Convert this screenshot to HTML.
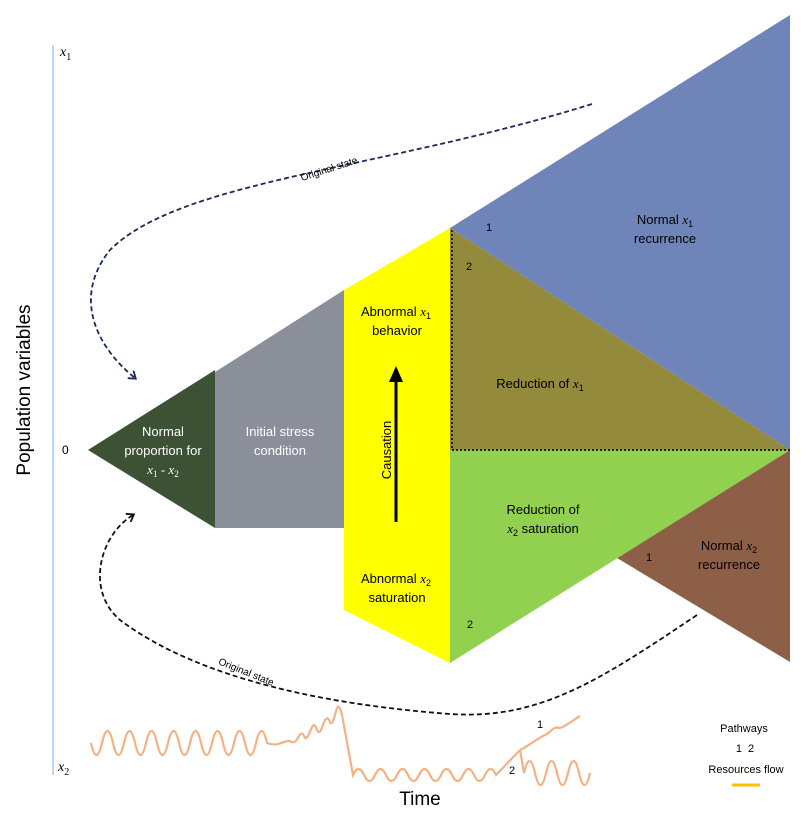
<!DOCTYPE html>
<html><head><style>
body{margin:0;background:#fff;}
svg{display:block;font-family:"Liberation Sans",sans-serif;}
</style></head><body>
<svg width="807" height="815" viewBox="0 0 807 815" xmlns="http://www.w3.org/2000/svg">
<defs>
<marker id="an" markerWidth="10" markerHeight="10" refX="6" refY="5" orient="auto" markerUnits="userSpaceOnUse"><path d="M0,0 L7,5 L0,10" fill="none" stroke="#1a2a5a" stroke-width="1.8"/></marker>
<marker id="ab" markerWidth="10" markerHeight="10" refX="6" refY="5" orient="auto" markerUnits="userSpaceOnUse"><path d="M0,0 L7,5 L0,10" fill="none" stroke="#111" stroke-width="1.8"/></marker>
</defs>
<line x1="53" y1="45" x2="53" y2="775" stroke="#bcd8ee" stroke-width="2"/>
<text x="60" y="56" font-family="Liberation Serif" font-style="italic" font-size="14">x<tspan font-size="10" dy="4" font-style="normal">1</tspan></text>
<text x="58" y="771" font-family="Liberation Serif" font-style="italic" font-size="14">x<tspan font-size="10" dy="4" font-style="normal">2</tspan></text>
<text x="62" y="454" font-size="12">0</text>
<text transform="translate(30,390) rotate(-90)" text-anchor="middle" font-size="19">Population variables</text>
<text x="420" y="805" text-anchor="middle" font-size="19">Time</text>

<polygon points="450,228 790,15 790,450" fill="#6f84b8"/>
<polygon points="617,558 790,450 790,662" fill="#8e5f47"/>
<polygon points="450,228 450,450 790,450" fill="#938a3c"/>
<polygon points="450,450 790,450 450,663" fill="#92d050"/>
<polygon points="344,290 450,228 450,663 344,610" fill="#ffff00"/>
<polygon points="215,372 344,290 344,528 215,528" fill="#8a8f9a"/>
<polygon points="88,450 215,370 215,528" fill="#3d5235"/>
<path d="M452,230 V450 H790" fill="none" stroke="#223" stroke-width="2" stroke-dasharray="2,2"/>

<line x1="396" y1="522" x2="396" y2="380" stroke="#000" stroke-width="3"/>
<polygon points="389,382 396,366 403,382" fill="#000"/>
<text transform="translate(391,450) rotate(-90)" text-anchor="middle" font-size="13">Causation</text>

<g font-size="13" text-anchor="middle">
<text x="163" y="436" fill="#fff">Normal</text>
<text x="163" y="455" fill="#fff">proportion for</text>
<text x="163" y="474" fill="#fff" font-family="Liberation Serif"><tspan font-style="italic">x</tspan><tspan font-size="9" dy="3">1</tspan><tspan dy="-3"> - </tspan><tspan font-style="italic">x</tspan><tspan font-size="9" dy="3">2</tspan></text>
<text x="280" y="436" fill="#fff">Initial stress</text>
<text x="280" y="455" fill="#fff">condition</text>
<text x="396" y="316">Abnormal <tspan font-family="Liberation Serif" font-style="italic">x</tspan><tspan font-size="9" dy="3">1</tspan></text>
<text x="397" y="335">behavior</text>
<text x="396" y="583">Abnormal <tspan font-family="Liberation Serif" font-style="italic">x</tspan><tspan font-size="9" dy="3">2</tspan></text>
<text x="397" y="602">saturation</text>
<text x="540" y="388">Reduction of <tspan font-family="Liberation Serif" font-style="italic">x</tspan><tspan font-size="9" dy="3">1</tspan></text>
<text x="543" y="514">Reduction of</text>
<text x="543" y="533"><tspan font-family="Liberation Serif" font-style="italic">x</tspan><tspan font-size="9" dy="3">2</tspan><tspan dy="-3"> saturation</tspan></text>
<text x="665" y="224">Normal <tspan font-family="Liberation Serif" font-style="italic">x</tspan><tspan font-size="9" dy="3">1</tspan></text>
<text x="665" y="243">recurrence</text>
<text x="729" y="550">Normal <tspan font-family="Liberation Serif" font-style="italic">x</tspan><tspan font-size="9" dy="3">2</tspan></text>
<text x="729" y="569">recurrence</text>
</g>
<g font-size="11">
<text x="486" y="231">1</text><text x="466" y="270">2</text>
<text x="646" y="561">1</text><text x="467" y="628">2</text>
<text x="537" y="728">1</text><text x="509" y="774">2</text>
</g>

<path d="M592,104 C380,170 180,180 110,250 C70,300 100,350 135,378" fill="none" stroke="#1a2a5a" stroke-width="1.8" stroke-dasharray="5,3" marker-end="url(#an)"/>
<text transform="translate(330,172) rotate(-18)" text-anchor="middle" font-size="10">Original state</text>
<path d="M697,615 C600,680 540,720 450,714 C330,705 200,680 120,620 C85,590 100,535 133,515" fill="none" stroke="#111" stroke-width="1.8" stroke-dasharray="5,3" marker-end="url(#ab)"/>
<text transform="translate(245,675) rotate(22)" text-anchor="middle" font-size="10">Original state</text>

<path d="M91,743 q5.5,24 11,0 t11,0 t11,0 t11,0 t11,0 t11,0 t11,0 t11,0 t11,0 t11,0 t11,0 t11,0 t11,0 t11,0 t11,0 t11,0 C280,748 285,738 292,742 C298,745 300,725 305,738 C310,740 312,715 317,730 C322,740 324,708 330,722 C335,730 336,690 342,715 L353,775 q5.5,-12 11,0 t11,0 t11,0 t11,0 t11,0 t11,0 t11,0 t11,0 t11,0 t11,0 t11,0 t11,0 t11,0 L520,750" fill="none" stroke="#f4b183" stroke-width="2.2"/>
<path d="M520,750 C530,745 538,738 545,735 C552,732 552,726 560,728 C568,725 570,722 580,716" fill="none" stroke="#f4b183" stroke-width="2.2"/>
<path d="M520,750 L524,773 q5.5,-24 11,0 t11,0 t11,0 t11,0 t11,0 t11,0" fill="none" stroke="#f4b183" stroke-width="2.2"/>

<g font-size="11" text-anchor="middle">
<text x="744" y="732">Pathways</text>
<text x="745" y="752">1&#160;&#160;2</text>
<text x="746" y="773">Resources flow</text>
</g>
<line x1="732" y1="785" x2="760" y2="785" stroke="#ffc000" stroke-width="3"/>
</svg>
</body></html>
